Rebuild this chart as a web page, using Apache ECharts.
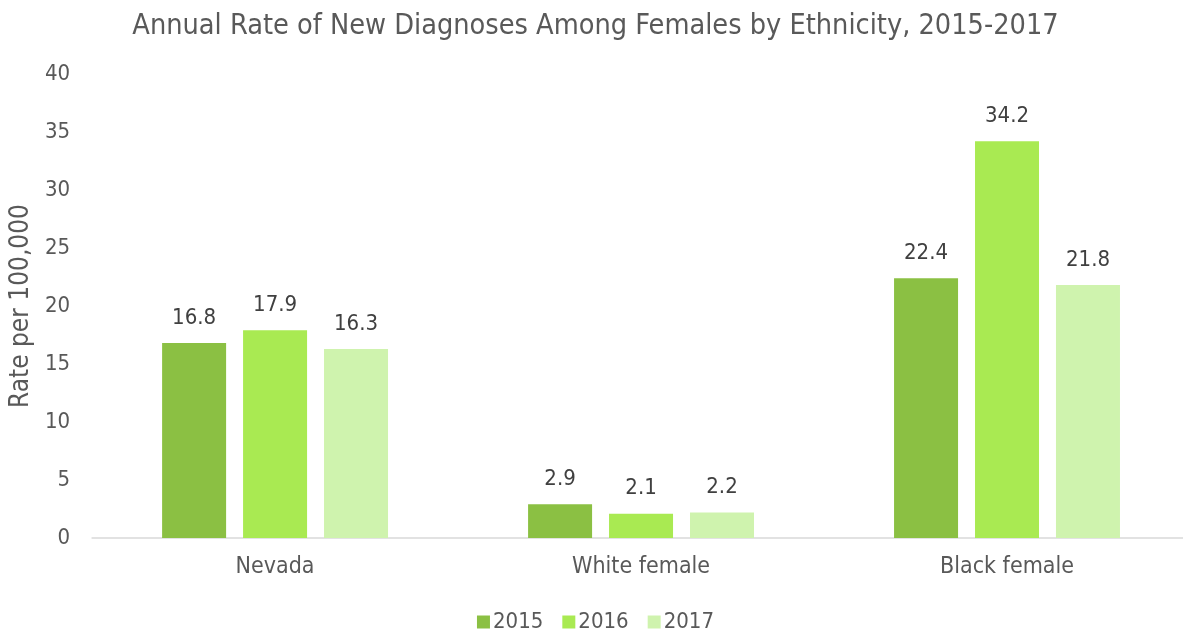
<!DOCTYPE html>
<html><head><meta charset="utf-8">
<script src="https://cdn.jsdelivr.net/npm/echarts@6/dist/echarts.min.js"></script>
<style>html,body{margin:0;padding:0;background:#fff;overflow:hidden;width:1183px;height:630px}#c{width:1191px;height:630px}</style>
</head><body><div id="c"></div>
<script>
const categories = ["Nevada", "White female", "Black female"];
const years = ["2015", "2016", "2017"];
const v2015 = [16.8, 2.9, 22.4];
const v2016 = [17.9, 2.1, 34.2];
const v2017 = [16.3, 2.2, 21.8];
const yTicks = [0, 5, 10, 15, 20, 25, 30, 35, 40];
const colors = ["#8BC043", "#A9EA52", "#CFF3AE"];
const FONT = "DejaVu Sans Condensed, DejaVu Sans, sans-serif";
const chart = echarts.init(document.getElementById('c'));
const mk = (name, data, i) => ({
  name, type: 'bar', data, barWidth: 64, barGap: '26.5%',
  itemStyle: { color: colors[i] },
  label: { show: true, position: 'top', distance: 14, color: '#404040', fontSize: 22, fontFamily: FONT, formatter: p => p.value.toFixed(1) }
});
chart.setOption({
  animation: false,
  title: { text: 'Annual Rate of New Diagnoses Among Females by Ethnicity, 2015-2017', left: 'center', top: 7,
    textStyle: { fontFamily: FONT, fontSize: 28.6, fontWeight: 'normal', color: '#595959' } },
  legend: { top: 606, left: 'center', itemWidth: 13, itemHeight: 13, itemGap: 19,
    textStyle: { fontFamily: FONT, fontSize: 22, color: '#595959', padding: [0, 0, 0, -2] }, icon: 'rect' },
  grid: { left: 91, top: 74, width: 1099, height: 464, containLabel: false },
  xAxis: { type: 'category', data: categories,
    axisLine: { lineStyle: { color: '#D9D9D9', width: 1.5 } }, axisTick: { show: false },
    axisLabel: { fontFamily: FONT, fontSize: 23, color: '#595959', margin: 18 } },
  yAxis: { type: 'value', min: yTicks[0], max: yTicks[yTicks.length - 1], interval: 5,
    name: 'Rate per 100,000', nameLocation: 'middle', nameGap: 58, nameRotate: 90,
    nameTextStyle: { fontFamily: FONT, fontSize: 26, color: '#595959' },
    splitLine: { show: false }, axisLine: { show: false }, axisTick: { show: false },
    axisLabel: { fontFamily: FONT, fontSize: 22, color: '#595959', margin: 22 } },
  series: [mk(years[0], v2015, 0), mk(years[1], v2016, 1), mk(years[2], v2017, 2)]
});
</script></body></html>
